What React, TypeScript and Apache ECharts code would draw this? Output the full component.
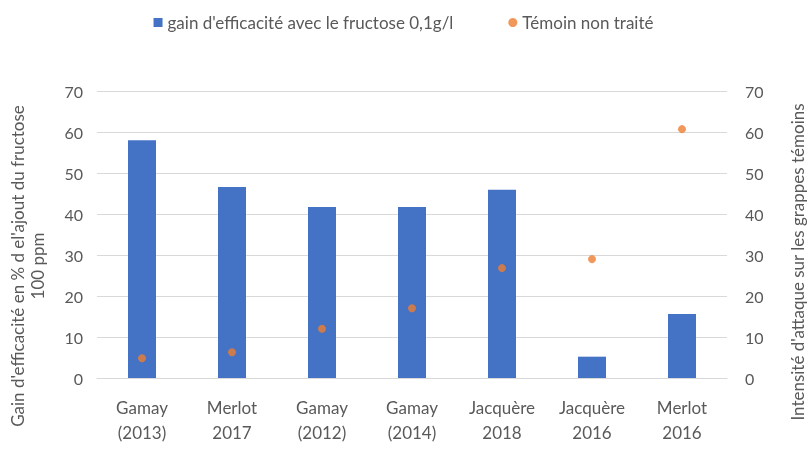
import React, { useEffect, useRef } from "react";
import * as echarts from "echarts";

const categories = ["Gamay\n(2013)", "Merlot\n2017", "Gamay\n(2012)", "Gamay\n(2014)", "Jacquère\n2018", "Jacquère\n2016", "Merlot\n2016"];
const gainValues = [58, 46.6, 41.7, 41.7, 45.9, 5.2, 15.6];
const temoinValues = [4.8, 6.3, 12, 17, 26.8, 29, 60.7];
const seriesNames = ["gain d'efficacité avec le fructose 0,1g/l", "Témoin non traité"];
const leftTitle = "Gain d'efficacité en % d el'ajout du fructose\n100 ppm";
const rightTitle = "Intensité d'attaque sur les grappes témoins";

const FONT = "Lato, 'Open Sans', sans-serif";
const GREY = "#595959";

export default function App() {
  const ref = useRef<HTMLDivElement>(null);
  useEffect(() => {
    if (!ref.current) return;
    const chart = echarts.init(ref.current, undefined, { renderer: "svg" });
    chart.setOption({
      animation: false,
      textStyle: { fontFamily: FONT, color: GREY },
      legend: {
        top: 9,
        left: "center",
        itemGap: 55,
        itemWidth: 9,
        itemHeight: 9,
        textStyle: { fontSize: 17, color: GREY, fontFamily: FONT },
        data: [
          { name: seriesNames[0], icon: "rect" },
          { name: seriesNames[1], icon: "circle" },
        ],
      },
      grid: { left: 97, right: 80, top: 91, bottom: 79 },
      xAxis: {
        type: "category",
        data: categories,
        axisTick: { show: false },
        axisLine: { lineStyle: { color: "#d9d9d9", width: 1 } },
        axisLabel: { color: GREY, fontSize: 17, lineHeight: 25, margin: 17, fontFamily: FONT, interval: 0 },
      },
      yAxis: [
        {
          type: "value",
          min: 0,
          max: 70,
          interval: 10,
          axisLabel: { color: GREY, fontSize: 16, margin: 14, fontFamily: FONT },
          splitLine: { lineStyle: { color: "#d9d9d9", width: 1 } },
          axisLine: { show: false },
          axisTick: { show: false },
        },
        {
          type: "value",
          min: 0,
          max: 70,
          interval: 10,
          position: "right",
          axisLabel: { color: GREY, fontSize: 16, margin: 18, fontFamily: FONT },
          splitLine: { show: false },
          axisLine: { show: false },
          axisTick: { show: false },
        },
      ],
      graphic: [
        {
          type: "text",
          x: 27,
          y: 266,
          rotation: Math.PI / 2,
          style: {
            text: leftTitle,
            fill: GREY,
            font: `17px ${FONT}`,
            align: "center",
            verticalAlign: "middle",
            lineHeight: 20,
          },
        },
        {
          type: "text",
          x: 797,
          y: 262,
          rotation: Math.PI / 2,
          style: {
            text: rightTitle,
            fill: GREY,
            font: `17px ${FONT}`,
            align: "center",
            verticalAlign: "middle",
          },
        },
      ],
      series: [
        {
          name: seriesNames[0],
          type: "bar",
          data: gainValues,
          barWidth: 28,
          itemStyle: { color: "#4472C4" },
          yAxisIndex: 0,
        },
        {
          name: seriesNames[1],
          type: "scatter",
          data: temoinValues,
          symbol: "circle",
          symbolSize: 8,
          itemStyle: { color: "#ED7D31" },
          yAxisIndex: 1,
          z: 5,
        },
      ],
    });
    return () => chart.dispose();
  }, []);
  return <div ref={ref} style={{ position: "fixed", left: 0, top: 0, width: 807, height: 457 }} />;
}
